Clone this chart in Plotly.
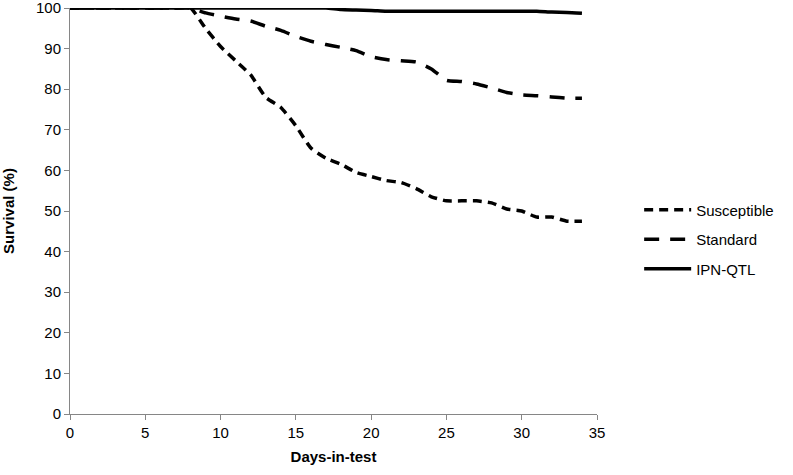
import plotly.graph_objects as go

# Дни испытания
days = list(range(0, 35))

# Выживаемость (%) по группам
susceptible = [100, 100, 100, 100, 100, 100, 100, 100, 100,
               95, 90.5, 87, 83.5, 78, 75.5, 71, 65.5, 63, 61.5, 59.5,
               58.5, 57.5, 57, 55.5, 53.5, 52.5, 52.5, 52.5, 52, 50.5,
               50, 48.5, 48.5, 47.5, 47.5]
standard = [100, 100, 100, 100, 100, 100, 100, 100, 100,
            98.8, 98, 97.3, 96.8, 95.5, 94.5, 93, 91.8, 91, 90.3, 89.5,
            88, 87.3, 87, 86.7, 85, 82.2, 81.9, 81.3, 80.3, 79.2,
            78.6, 78.4, 78.1, 77.8, 77.8]
ipn_qtl = [100] * 18 + [99.6, 99.5, 99.4, 99.2, 99.2, 99.2, 99.2, 99.2,
                        99.2, 99.2, 99.2, 99.2, 99.2, 99.2, 99.0, 98.9, 98.7]

series = [
    ('Susceptible', susceptible, '9px,6px'),
    ('Standard', standard, '15px,11px'),
    ('IPN-QTL', ipn_qtl, 'solid'),
]

fig = go.Figure()
for name, vals, dash in series:
    fig.add_trace(go.Scatter(
        x=days, y=vals, mode='lines', name=name, legendgroup=name,
        line=dict(color='black', width=3.5, dash=dash, shape='spline', smoothing=0.5),
        cliponaxis=False
    ))

axis_common = dict(
    showgrid=False, zeroline=False, showline=True, linecolor='#868686', linewidth=1,
    ticks='outside', ticklen=5, tickcolor='#868686', automargin=False,
    ticklabeloverflow='allow',
    tickfont=dict(family='Liberation Sans, Arial', size=15, color='black'),
)

fig.update_layout(
    width=793, height=475,
    paper_bgcolor='white', plot_bgcolor='white',
    margin=dict(l=70, r=196, t=8, b=61),
    font=dict(family='Liberation Sans, Arial', color='black'),
    xaxis=dict(range=[0, 35], dtick=5,
               title=dict(text='<b>Days-in-test</b>', font=dict(size=15), standoff=11),
               **axis_common),
    yaxis=dict(range=[0, 100], dtick=10,
               title=dict(text='<b>Survival (%)</b>', font=dict(size=15), standoff=20),
               **axis_common),
    legend=dict(x=1.08, y=0.43, xanchor='left', yanchor='middle',
                font=dict(size=15), tracegroupgap=7, itemwidth=47,
                bgcolor='rgba(0,0,0,0)'),
)

# убираем стандартный отступ body, чтобы фигура начиналась с (0, 0)
fig.write_html("out.html", config={'displayModeBar': False},
               post_script="document.body.style.margin='0';")
